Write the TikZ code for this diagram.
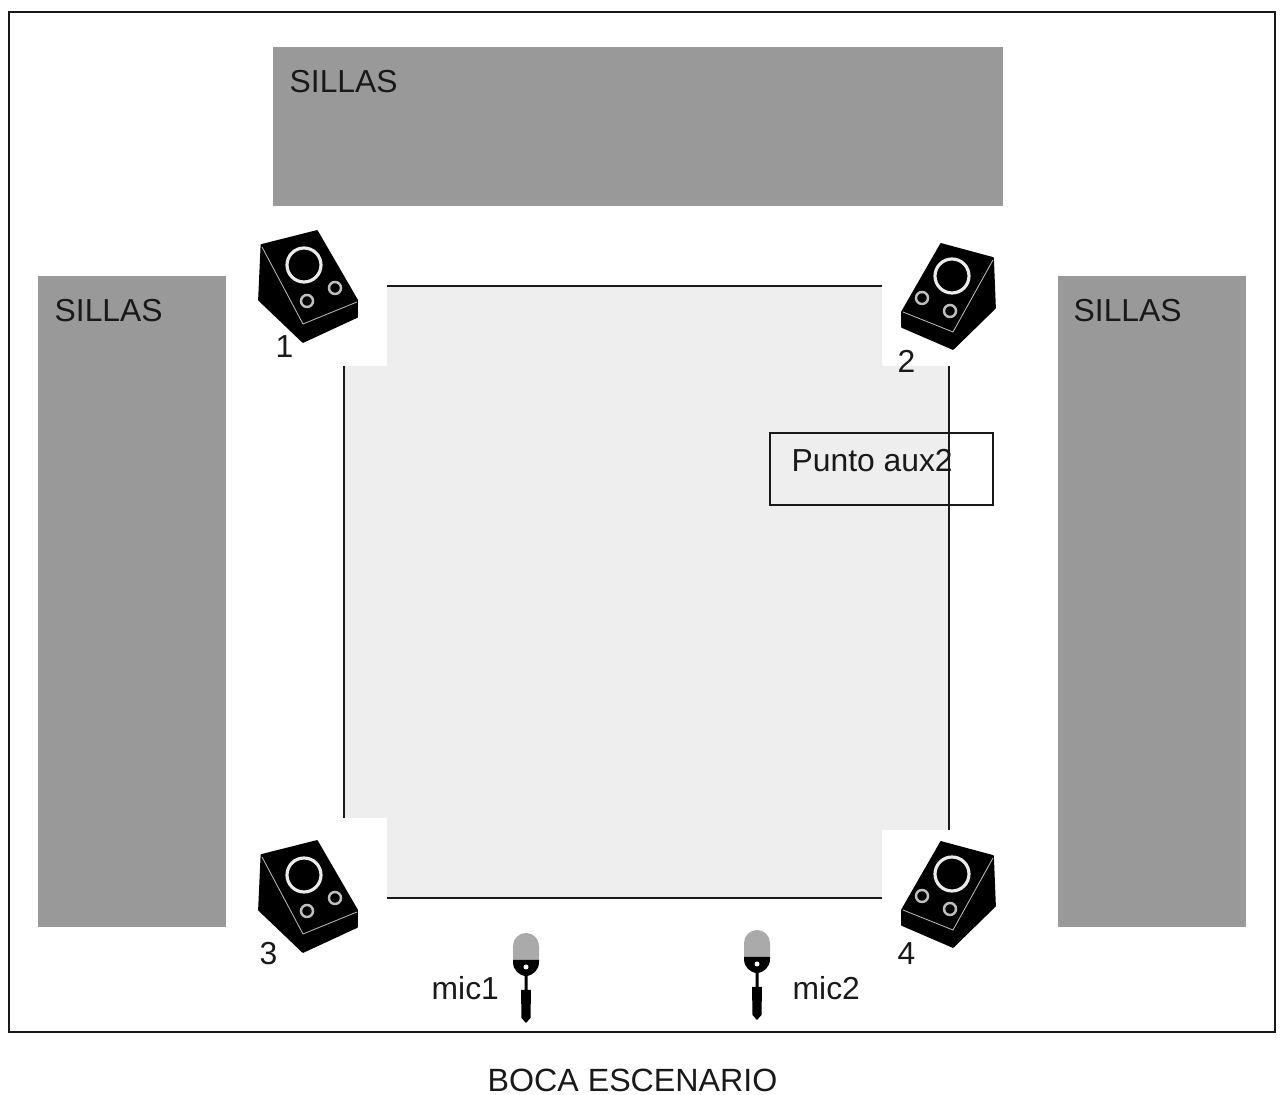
\documentclass[tikz,border=0pt]{standalone}
\usepackage{fontspec}
\setmainfont{Liberation Sans}
\definecolor{sillagris}{HTML}{999999}
\definecolor{escenario}{HTML}{EEEEEE}
\definecolor{micgris}{HTML}{AAAAAA}
\tikzset{
	sillas/.style={fill=sillagris, draw=none},
	linea/.style={line width=0.4pt, draw=black!90},
	rotulo/.style={anchor=base west, inner sep=0pt, text=black!90, font=\fontsize{9.05}{11}\selectfont},
	aro/.style={draw=white!92!black, fill=black}
}
%monitor con el frente hacia abajo a la derecha
\newcommand{\monitorizq}[1]{
	\begin{scope}[shift={#1}]
		\fill[draw=black, line width=0.5pt, line join=round] (261.5, 245) -- (317, 231) -- (357, 300) -- (357, 317) -- (303, 342) -- (259, 300) -- cycle;
		\draw[white!70!black, line width=0.25pt] (262, 247) -- (303, 324) -- (357, 302);
		\draw[aro, line width=0.9pt] (304, 265) circle (17);
		\draw[aro, white!75!black, fill=black, line width=0.7pt] (307, 301) circle (6);
		\draw[aro, white!75!black, fill=black, line width=0.7pt] (335, 288) circle (6);
	\end{scope}
}
%monitor con el frente hacia abajo a la izquierda
\newcommand{\monitordcha}[1]{
	\begin{scope}[shift={#1}]
		\fill[draw=black, line width=0.5pt, line join=round] (941, 244) -- (993, 258) -- (995, 308) -- (953, 349) -- (902, 327) -- (902, 312) -- cycle;
		\draw[white!70!black, line width=0.25pt] (903, 312) -- (953, 332) -- (993, 260);
		\draw[aro, line width=0.9pt] (952, 276) circle (17);
		\draw[aro, white!75!black, fill=black, line width=0.7pt] (922, 298) circle (6);
		\draw[aro, white!75!black, fill=black, line width=0.7pt] (950, 311) circle (6);
	\end{scope}
}
%microfono, origen en el centro de la capsula
\newcommand{\microfono}[1]{
	\begin{scope}[shift={#1}]
		\fill[micgris] (-13, 27) -- (-13, 13) arc[start angle=180, end angle=360, radius=13] -- (13, 27) -- cycle;
		\fill (-13, 27) -- (-13, 29) .. controls (-13, 38) and (-6, 42) .. (-1.5, 43) -- (-1.5, 57) -- (-5, 57) -- (-4.5, 85) -- (0, 90) -- (4.5, 85) -- (5, 57) -- (1.5, 57) -- (1.5, 43) .. controls (6, 42) and (13, 38) .. (13, 29) -- (13, 27) -- cycle;
		\fill[white] (0, 34) circle (2.5);
	\end{scope}
}
\begin{document}
\begin{tikzpicture}[x=0.01cm, y=-0.01cm]
	\useasboundingbox (0, 0) rectangle (1284, 1095);
	\draw[linea] (9, 12) rectangle (1275, 1032);%marco

	%sillas
	\fill[sillas] (273, 47) rectangle (1003, 206);
	\fill[sillas] (38, 276) rectangle (226, 927);
	\fill[sillas] (1058, 276) rectangle (1246, 927);
	\node[rotulo] (sillasA) at (289, 93) {SILLAS};
	\node[rotulo] (sillasB) at (54, 322) {SILLAS};
	\node[rotulo] (sillasC) at (1073, 322) {SILLAS};

	%escenario
	\fill[escenario] (387, 286) -- (882, 286) -- (882, 366) -- (949, 366) -- (949, 830) -- (882, 830) -- (882, 898) -- (387, 898) -- (387, 818) -- (344, 818) -- (344, 366) -- (387, 366) -- cycle;
	\draw[linea] (387, 286) -- (882, 286);
	\draw[linea] (387, 898) -- (882, 898);
	\draw[linea] (344, 366) -- (344, 818);
	\draw[linea] (949, 366) -- (949, 830);

	\draw[linea] (770, 433) rectangle (993, 505);
	\node[rotulo] (punto) at (791, 472) {Punto aux2};

	%monitores
	\monitorizq{(0, 0)}
	\monitordcha{(0, 0)}
	\monitorizq{(0, 610)}
	\monitordcha{(0, 598)}
	\node[rotulo] (numA) at (275, 358) {1};
	\node[rotulo] (numB) at (897, 373) {2};
	\node[rotulo] (numC) at (259, 965) {3};
	\node[rotulo] (numD) at (897, 965) {4};

	%microfonos
	\microfono{(526, 933)}
	\microfono{(757, 930)}
	\node[rotulo] (micA) at (431, 1000) {mic1};
	\node[rotulo] (micB) at (792, 1000) {mic2};

	\node[rotulo, font=\fontsize{9.15}{11}\selectfont] (boca) at (487, 1092) {BOCA ESCENARIO};
\end{tikzpicture}
\end{document}
